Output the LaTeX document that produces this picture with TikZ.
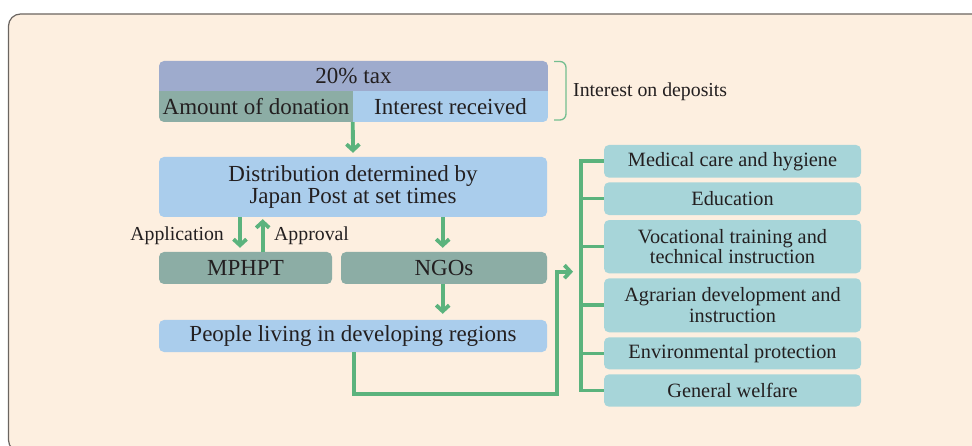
\documentclass[tikz,border=0pt]{standalone}
\usepackage{fontspec}
\setmainfont{Liberation Serif}
\usetikzlibrary{arrows.meta,calc}

\definecolor{panelfill}{HTML}{FDEFE0}
\definecolor{panelline}{HTML}{6B6561}
\definecolor{taxblue}{HTML}{9EABCD}
\definecolor{sage}{HTML}{8CADA5}
\definecolor{skyblue}{HTML}{AACDEC}
\definecolor{aqua}{HTML}{A7D5D9}
\definecolor{flow}{HTML}{5BB37D}
\definecolor{ink}{HTML}{231F20}

\tikzset{
  cell/.style={inner sep=0pt, align=center, text=ink,
    font=\fontsize{23}{22.6}\selectfont},
  mainbox/.style={cell, rounded corners=5pt},
  areabox/.style={inner sep=0pt, align=center, text=ink, rounded corners=5pt,
    fill=aqua, minimum width=257pt,
    font=\fontsize{20.3}{20.7}\selectfont},
  caption/.style={inner sep=0pt, text=ink, font=\fontsize{19.8}{21}\selectfont},
  arr/.style={draw=flow, line width=3.8pt, shorten >=4pt,
    -{Straight Barb[length=6pt,width=13pt]}},
  trunk/.style={draw=flow, line width=3.6pt},
  brace/.style={draw=flow!85!white, line width=1.3pt, rounded corners=6pt}
}

\begin{document}
\begin{tikzpicture}[x=1pt,y=-1pt]
  \useasboundingbox (0,0) rectangle (972,446);
  \clip (0,0) rectangle (972,446);

  % background panel
  \draw[fill=panelfill, draw=panelline, line width=1.2pt, rounded corners=12pt]
    (8.5,14) rectangle (1000,452);

  % composite box: tax row above, donation and interest below
  \begin{scope}
    \clip[rounded corners=5pt] (159,61) rectangle (548,122);
    \node[cell, fill=taxblue, minimum width=389pt, minimum height=32pt]
      (tax) at (353.5,76.5) {20\% tax};
    \node[cell, fill=sage, minimum width=194pt, minimum height=31pt]
      (don) at (256,106.5) {Amount of donation};
    \node[cell, fill=skyblue, minimum width=195pt, minimum height=31pt]
      (int) at (450.5,106.5) {Interest received};
  \end{scope}

  % bracket and its caption
  \draw[brace] (554,61.5) -- (566,61.5) -- (566,120) -- (554,120);
  \node[caption, anchor=west] (dep) at (573,92) {Interest on deposits};

  % main flow boxes
  \node[mainbox, fill=skyblue, minimum width=388pt, minimum height=60pt]
    (dist) at (353,187) {Distribution determined by\\Japan Post at set times};
  \node[mainbox, fill=sage, minimum width=173pt, minimum height=32pt]
    (mphpt) at (245.5,268) {MPHPT};
  \node[mainbox, fill=sage, minimum width=206pt, minimum height=32pt]
    (ngo) at (444,268) {NGOs};
  \node[mainbox, fill=skyblue, minimum width=388pt, minimum height=32pt]
    (people) at (353,336) {People living in developing regions};

  % fields of support
  \node[areabox, minimum height=32.7pt] (med) at (732.5,161.3) {Medical care and hygiene};
  \node[areabox, minimum height=32.7pt] (edu) at (732.5,198.7) {Education};
  \node[areabox, minimum height=53.3pt] (voc) at (732.5,246.7)
    {Vocational training and\\technical instruction};
  \node[areabox, minimum height=54pt] (agr) at (732.5,305.3)
    {Agrarian development and\\instruction};
  \node[areabox, minimum height=32pt] (env) at (732.5,353.3) {Environmental protection};
  \node[areabox, minimum height=32.4pt] (gw) at (732.5,390.5) {General welfare};

  % application / approval labels
  \node[caption, anchor=east] (app) at (224,236) {Application};
  \node[caption, anchor=west] (apr) at (274,236) {Approval};

  % arrows
  \draw[arr] (int.south west) -- (dist.north -| 353,0);
  \draw[arr] (dist.south -| 240,0) -- (mphpt.north -| 240,0);
  \draw[arr, shorten >=2pt] (mphpt.north -| 262.7,0) -- (dist.south -| 262.7,0);
  \draw[arr] (dist.south -| 442.7,0) -- (ngo.north -| 442.7,0);
  \draw[arr, shorten >=6pt] (ngo.south -| 442.7,0) -- (people.north -| 442.7,0);

  % link from the people to the fields of support
  \coordinate (entry) at (577,271.7);
  \draw[arr] (people.south -| 354,0) |- (556.7,394) |- (entry);

  % branching trunk
  \draw[trunk] (med.west) -- (med.west -| 581,0) -- (gw.west -| 581,0) -- (gw.west);
  \foreach \b in {edu,voc,agr,env}
    \draw[trunk] (\b.west) -- (\b.west -| 581,0);
\end{tikzpicture}
\end{document}
